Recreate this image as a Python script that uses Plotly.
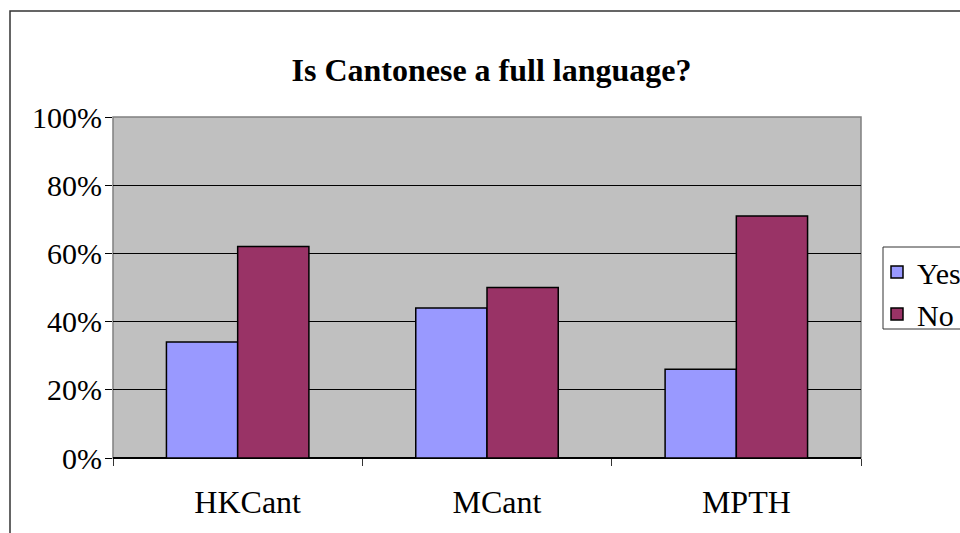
import plotly.graph_objects as go

categories = ["HKCant", "MCant", "MPTH"]
yes_vals = [0.34, 0.44, 0.26]
no_vals = [0.62, 0.50, 0.71]
y_ticks = [0, 0.2, 0.4, 0.6, 0.8, 1.0]
y_tick_labels = ["0%", "20%", "40%", "60%", "80%", "100%"]

FONT = "Liberation Serif, Times New Roman, serif"

fig = go.Figure()
fig.add_trace(go.Bar(name="Yes", x=categories, y=yes_vals,
                     marker=dict(color="#9999FF", line=dict(color="black", width=1.5))))
fig.add_trace(go.Bar(name="No", x=categories, y=no_vals,
                     marker=dict(color="#993366", line=dict(color="black", width=1.5))))

L, R, T, B = 113, 99, 117, 75
W, H = 960, 533
pw, ph = W - L - R, H - T - B

def px_x(x):
    return (x - L) / pw

def px_y(y):
    return (H - B - y) / ph

fig.update_layout(
    width=W, height=H,
    margin=dict(l=L, r=R, t=T, b=B, pad=0, autoexpand=False),
    paper_bgcolor="white",
    plot_bgcolor="#C0C0C0",
    barmode="group",
    bargap=1.5 / 3.5,
    bargroupgap=0,
    font=dict(family=FONT, size=30, color="black"),
    title=dict(text="<b>Is Cantonese a full language?</b>", x=0.512, xanchor="center",
               y=1 - 70 / H, yanchor="middle", font=dict(family=FONT, size=32)),
    legend=dict(x=px_x(877), xanchor="left", y=px_y(246), yanchor="top",
                bgcolor="rgba(0,0,0,0)", borderwidth=0,
                font=dict(family=FONT, size=30), itemwidth=30),
    xaxis=dict(showgrid=False, tickson="boundaries", ticks="outside", ticklen=7,
               tickcolor="#333333", tickfont=dict(size=32), ticklabelstandoff=22,
               ticklabelshift=10, showline=False, fixedrange=True),
    yaxis=dict(range=[0, 1], tickvals=y_ticks, ticktext=y_tick_labels,
               showgrid=True, gridcolor="black", gridwidth=1,
               zeroline=True, zerolinecolor="black", zerolinewidth=1.5,
               ticks="outside", ticklen=7, tickcolor="black", tickfont=dict(size=30),
               ticklabelstandoff=-3, showline=False),
)

# plot area border (gray)
fig.add_shape(type="rect", xref="paper", yref="paper", x0=0, x1=1, y0=0, y1=1,
              line=dict(color="#808080", width=1.5), layer="below")
# legend box
fig.add_shape(type="rect", xref="paper", yref="paper",
              x0=px_x(883), x1=px_x(1000), y0=px_y(329), y1=px_y(247),
              line=dict(color="#333333", width=1), fillcolor="white", layer="below")
# outer chart border
fig.add_shape(type="rect", xref="paper", yref="paper",
              x0=px_x(10), x1=px_x(1020), y0=px_y(560), y1=px_y(11),
              line=dict(color="#333333", width=1.5), fillcolor="rgba(0,0,0,0)", layer="below")

fig.write_html("out.html")
